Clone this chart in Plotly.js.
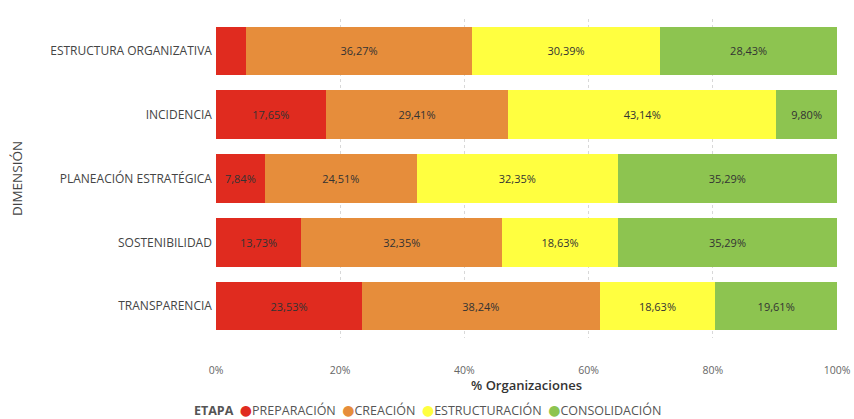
<!DOCTYPE html>
<html>
<head>
<meta charset="utf-8">
<script src="https://cdn.plot.ly/plotly-3.0.1.min.js"></script>
<style>html,body{margin:0;padding:0;background:#fff;}#chart{width:854px;height:419px;}</style>
</head>
<body>
<div id="chart"></div>
<script>
const categories = ["ESTRUCTURA ORGANIZATIVA", "INCIDENCIA", "PLANEACIÓN ESTRATÉGICA", "SOSTENIBILIDAD", "TRANSPARENCIA"];
const stages = ["PREPARACIÓN", "CREACIÓN", "ESTRUCTURACIÓN", "CONSOLIDACIÓN"];
const preparacion = [4.90, 17.65, 7.84, 13.73, 23.53];
const creacion = [36.27, 29.41, 24.51, 32.35, 38.24];
const estructuracion = [30.39, 43.14, 32.35, 18.63, 18.63];
const consolidacion = [28.43, 9.80, 35.29, 35.29, 19.61];
const colors = ["#E02B1F", "#E68D3B", "#FFFF40", "#8DC450"];
const xTicks = [0, 20, 40, 60, 80, 100];
const legendTitle = "ETAPA";

const series = [preparacion, creacion, estructuracion, consolidacion];
const fmt = v => v < 5 ? "" : v.toFixed(2).replace(".", ",") + "%";
const font = "Open Sans, Liberation Sans, sans-serif";

const traces = series.map((vals, i) => ({
  type: "bar", orientation: "h", name: stages[i],
  y: categories, x: vals,
  text: vals.map(fmt), textposition: "inside", insidetextanchor: "middle",
  textangle: 0, constraintext: "none",
  textfont: {family: font, size: 11, color: "#333"},
  marker: {color: colors[i]}, showlegend: false, hoverinfo: "x+y"
}));

const legendText = "<b>" + legendTitle + "</b>  " + stages.map((s, i) =>
  "<span style='color:" + colors[i] + ";font-size:14px;font-family:DejaVu Sans'>●</span>" + s).join("  ");

const layout = {
  width: 854, height: 419,
  margin: {l: 216, r: 17, t: 19, b: 81},
  barmode: "stack", bargap: 0.24,
  paper_bgcolor: "#fff", plot_bgcolor: "#fff",
  font: {family: font, size: 11, color: "#444"},
  showlegend: false,
  xaxis: {
    range: [0, 100], tickvals: xTicks, ticktext: xTicks.map(t => t + "%"),
    showgrid: true, gridcolor: "#d8d8d8", griddash: "dot", gridwidth: 1,
    zeroline: false, showline: false, ticks: "", ticklabelstandoff: 24,
    tickfont: {size: 10.5, color: "#666"},
    title: {text: "% Organizaciones", font: {size: 13, color: "#333", weight: 600}, standoff: 2}
  },
  yaxis: {
    autorange: "reversed", type: "category", showgrid: false, zeroline: false,
    ticks: "", ticklen: 0, tickfont: {size: 12, color: "#444"}, ticksuffix: " ",
    title: {text: "DIMENSIÓN", font: {size: 13.5, color: "#444"}, standoff: 24}
  },
  annotations: [{
    xref: "paper", yref: "paper", x: 0.341, y: -0.226, xanchor: "center", yanchor: "middle",
    showarrow: false, text: legendText, font: {family: font, size: 12.5, color: "#555"}
  }]
};

Plotly.newPlot("chart", traces, layout, {displayModeBar: false, staticPlot: true});
</script>
</body>
</html>
